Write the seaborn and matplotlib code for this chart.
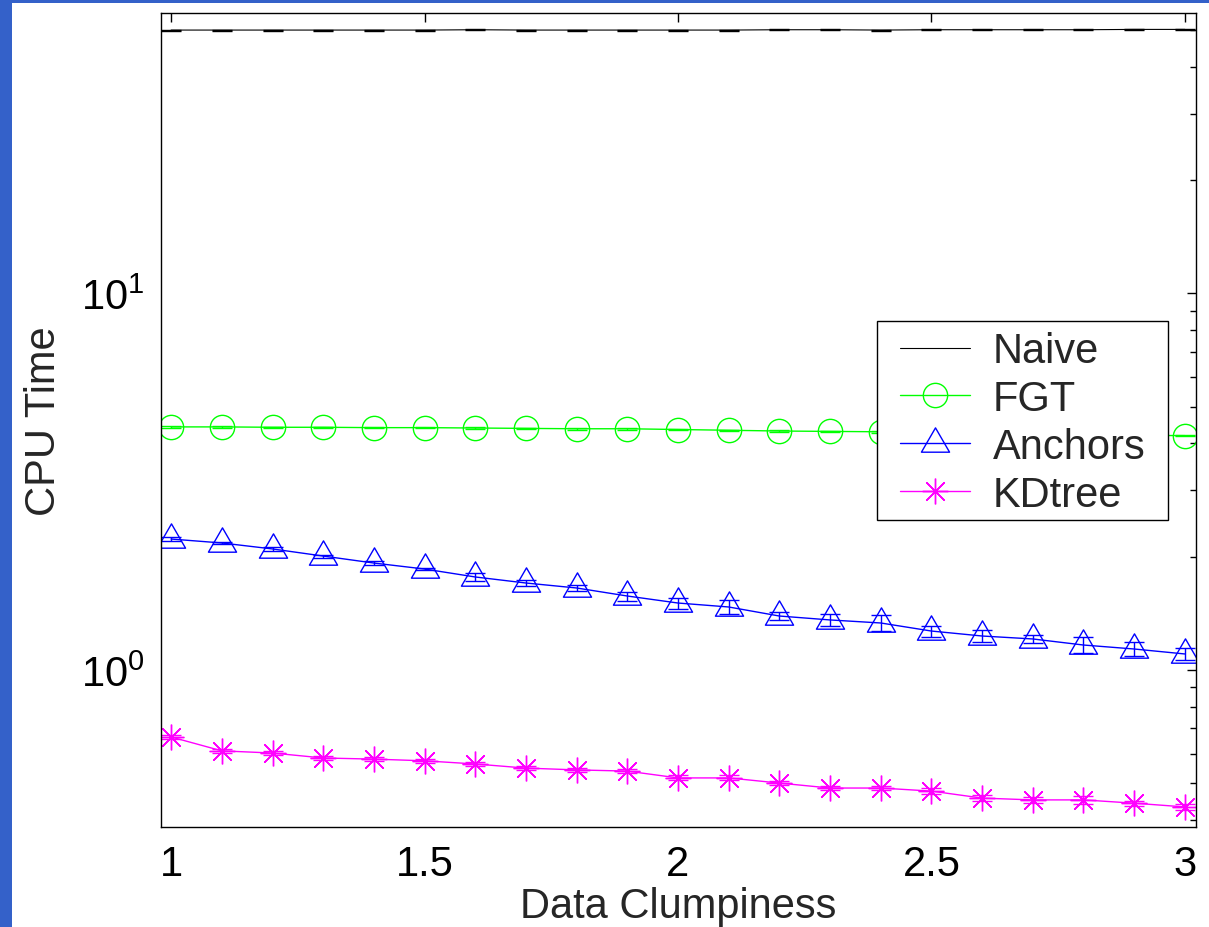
import numpy as np
import pandas as pd
import matplotlib
matplotlib.use("Agg")
import matplotlib.pyplot as plt
import seaborn as sns
from matplotlib.patches import Rectangle
from matplotlib.path import Path
from matplotlib.ticker import FixedLocator, LogLocator, NullFormatter, LogFormatterMathtext

# ---------------- data ----------------
clumpiness = [1.0, 1.1, 1.2, 1.3, 1.4, 1.5, 1.6, 1.7, 1.8, 1.9, 2.0,
              2.1, 2.2, 2.3, 2.4, 2.5, 2.6, 2.7, 2.8, 2.9, 3.0]

naive = [50.0, 50.0, 50.0, 50.0, 50.0, 50.0, 50.1, 50.0, 50.0, 50.0, 50.0,
         50.0, 50.1, 50.1, 50.0, 50.1, 50.1, 50.1, 50.1, 50.2, 50.2]
naive_err = [0.15] * 21

fgt = [4.42, 4.42, 4.41, 4.41, 4.40, 4.40, 4.39, 4.38, 4.37, 4.37, 4.35,
       4.33, 4.31, 4.30, 4.29, 4.27, 4.26, 4.24, 4.22, 4.20, 4.19]
fgt_err = [0.02] * 21

anchors = [2.227, 2.174, 2.096, 2.007, 1.923, 1.854, 1.766, 1.702, 1.651, 1.572, 1.506,
           1.470, 1.391, 1.358, 1.333, 1.269, 1.231, 1.209, 1.165, 1.137, 1.103]
anchors_err = [0.027, 0.017, 0.026, 0.018, 0.027, 0.015, 0.043, 0.028, 0.033, 0.043, 0.051,
               0.060, 0.034, 0.047, 0.065, 0.043, 0.045, 0.030, 0.057, 0.047, 0.039]

kdtree = [0.664, 0.610, 0.602, 0.584, 0.580, 0.574, 0.563, 0.549, 0.543, 0.539, 0.517,
          0.517, 0.501, 0.486, 0.486, 0.477, 0.457, 0.452, 0.452, 0.443, 0.433]
kdtree_err = [0.008, 0.007, 0.008, 0.007, 0.007, 0.007, 0.007, 0.006, 0.007, 0.006, 0.008,
              0.008, 0.007, 0.007, 0.007, 0.008, 0.008, 0.008, 0.012, 0.007, 0.007]

series_names = ["Naive", "FGT", "Anchors", "KDtree"]
xticks = [1, 1.5, 2, 2.5, 3]
xtick_labels = ["1", "1.5", "2", "2.5", "3"]

# ---------------- style ----------------
sns.set_style("white")
plt.rcParams["font.family"] = ["Liberation Sans", "DejaVu Sans"]
plt.rcParams["mathtext.fontset"] = "custom"
plt.rcParams["mathtext.rm"] = "Liberation Sans"
plt.rcParams["mathtext.it"] = "Liberation Sans:italic"
plt.rcParams["mathtext.bf"] = "Liberation Sans:bold"

FS = 30

fig = plt.figure(figsize=(12.09, 9.28), dpi=100, facecolor="#3461c9")
fig.add_artist(Rectangle((12 / 1209, 0), 1, 924 / 928, transform=fig.transFigure,
                         facecolor="white", edgecolor="none", zorder=-10))
ax = fig.add_axes([161 / 1209, 1 - 828 / 928, (1196 - 161) / 1209, (828 - 13.7) / 928])
ax.set_facecolor("white")

tri = Path([(0, 1.0), (-0.9, -0.556), (0.9, -0.556), (0, 1.0)],
           [Path.MOVETO, Path.LINETO, Path.LINETO, Path.CLOSEPOLY])

specs = [
    ("Naive", naive, naive_err, "black", None, 0, 0.8),
    ("FGT", fgt, fgt_err, "#00ff00", "o", 17.5, 1.0),
    ("Anchors", anchors, anchors_err, "#0000ff", tri, 22.5, 1.0),
    ("KDtree", kdtree, kdtree_err, "#ff00ff", (8, 2, 0), 18.5, 1.0),
]

for name, vals, errs, col, mk, ms, lw in specs:
    df = pd.DataFrame({"x": clumpiness, "y": vals})
    kw = {}
    if mk is not None:
        kw = dict(marker=mk, markersize=ms, markerfacecolor="none",
                  markeredgecolor=col, markeredgewidth=1.0)
    sns.lineplot(data=df, x="x", y="y", ax=ax, color=col, linewidth=lw,
                 label=name, **kw)
    ax.errorbar(clumpiness, vals, yerr=errs, fmt="none", ecolor=col,
                elinewidth=1.0, capsize=7, capthick=1.0)

ax.set_yscale("log")
ax.set_xlim(0.98, 3.022)
ax.set_ylim(0.383, 55.6)

ax.xaxis.set_major_locator(FixedLocator(xticks))
ax.set_xticklabels(xtick_labels)
ax.yaxis.set_major_locator(LogLocator(base=10, numticks=10))
ax.yaxis.set_major_formatter(LogFormatterMathtext())
ax.yaxis.set_minor_locator(LogLocator(base=10, subs=np.arange(2, 10), numticks=10))
ax.yaxis.set_minor_formatter(NullFormatter())

ax.tick_params(axis="both", which="both", direction="in", top=True, right=True,
               colors="black", labelsize=FS)
ax.tick_params(axis="both", which="major", length=6.5, width=1.0, pad=12)
ax.tick_params(axis="both", which="minor", length=4, width=1.0)

for s in ax.spines.values():
    s.set_color("black")
    s.set_linewidth(1.0)

ax.set_xlabel("Data Clumpiness", fontsize=FS, labelpad=2)
ax.set_ylabel("CPU Time", fontsize=FS, labelpad=12)

# legend box (drawn separately so the padding matches the reference)
ax.add_patch(Rectangle((0.692, 0.377), 0.281, 0.244, transform=ax.transAxes,
                       facecolor="white", edgecolor="black", linewidth=1.0,
                       zorder=4.5, clip_on=False))
handles, labels = ax.get_legend_handles_labels()
leg = ax.legend(handles, labels, loc="upper left", bbox_to_anchor=(0.714, 0.609),
                borderaxespad=0, frameon=False, fontsize=FS, handlelength=1.68,
                handletextpad=0.55, borderpad=0.0, labelspacing=0.19)
leg.set_zorder(5)

fig.savefig("out.png", dpi=100, facecolor=fig.get_facecolor())
